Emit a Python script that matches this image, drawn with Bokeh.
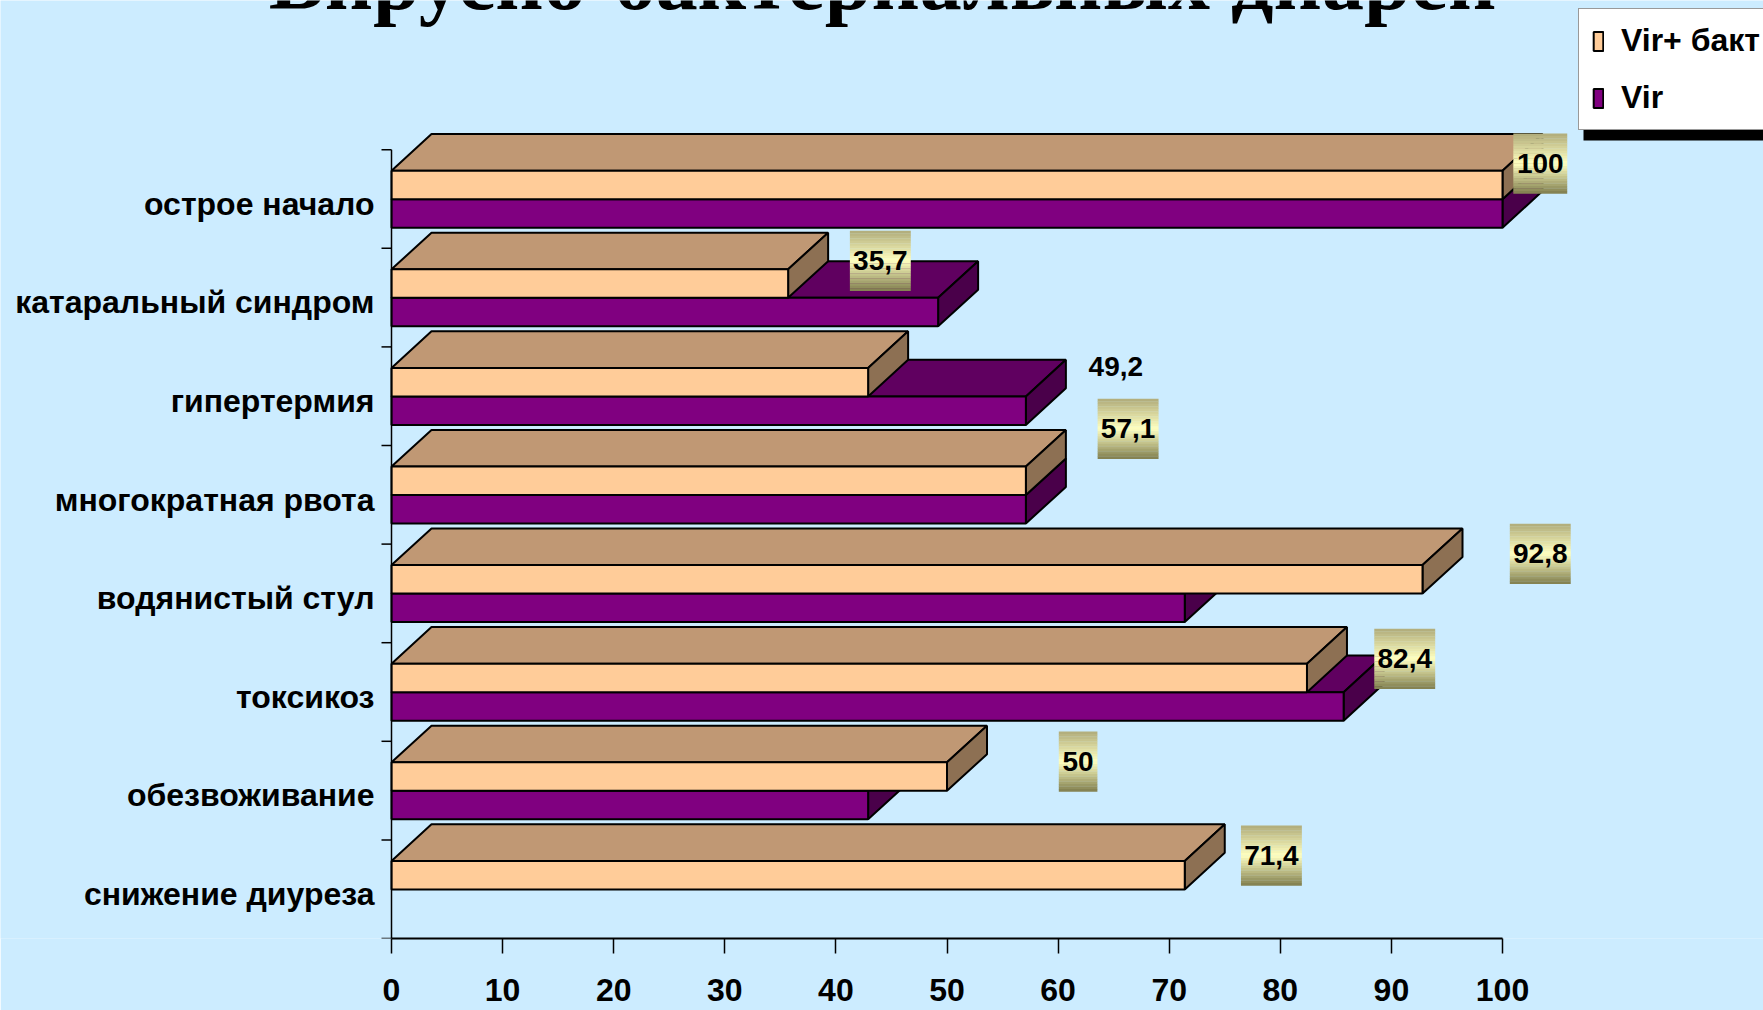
from bokeh.plotting import figure
from bokeh.models import Range1d, FixedTicker, Legend, LegendItem, ColumnDataSource
from bokeh.core.properties import value
from bokeh.embed import file_html
from bokeh.resources import INLINE

# ---- data -----------------------------------------------------------------
categories = [
    "острое начало",
    "катаральный синдром",
    "гипертермия",
    "многократная рвота",
    "водянистый стул",
    "токсикоз",
    "обезвоживание",
    "снижение диуреза",
]
vir_bakt = [100, 35.7, 42.9, 57.1, 92.8, 82.4, 50, 71.4]
vir = [100, 49.2, 57.1, 57.1, 71.4, 85.7, 42.9, 0]
series_names = ["Vir+ бакт", "Vir"]
x_ticks = [0, 10, 20, 30, 40, 50, 60, 70, 80, 90, 100]
title_text = "Вирусно-бактериальных диарей"

# data labels: which bar they belong to (category index, series index)
label_refs = [(0, 0), (1, 0), (1, 1), (2, 1), (4, 0), (5, 0), (6, 0), (7, 0)]
# placement of each label relative to its bar end / category band
label_dx = [3.4, 8.3, 16.0, 9.2, 10.6, 8.8, 11.8, 7.8]
label_dy = [0.860, 0.873, -0.197, 0.169, 0.902, 0.836, 0.795, 0.842]
label_boxed = [True, True, False, True, True, True, True, True]

# ---- layout constants -----------------------------------------------------
W, H = 1763, 1010
X0 = 391.0        # screen x of value 0
PX_X = 11.11      # pixels per value unit
Y0 = 938.0        # screen y of the value axis (bottom of frame)
PX_Y = 98.6       # pixels per category band
DX = 40.0 / PX_X  # oblique depth of the 3-D boxes
DY = 36.6 / PX_Y
LO, MID, HI = 0.209, 0.498, 0.787   # front faces inside a band

BG = "#CCECFF"
PEACH = ("#FFCC99", "#C09874", "#8D7053")    # front, top, side
PURPLE = ("#800080", "#600060", "#4A004A")
FONT = "Liberation Sans"

n = len(categories)

p = figure(
    width=W, height=H,
    x_range=Range1d(-X0 / PX_X, (W - X0) / PX_X),
    y_range=Range1d(0, Y0 / PX_Y),
    x_axis_location="below", y_axis_location=None,
    toolbar_location=None, output_backend="svg",
    background_fill_color=BG, border_fill_color=BG,
    outline_line_color=None, min_border=0,
)
p.min_border_bottom = int(H - Y0)
p.xgrid.visible = False
p.ygrid.visible = False


def boxes(vals, lo, hi):
    front = dict(left=[], right=[], bottom=[], top=[])
    top_xs, top_ys, side_xs, side_ys = [], [], [], []
    for k, v in enumerate(vals):
        if v <= 0:
            continue
        b0 = n - 1 - k
        bot, top = b0 + lo, b0 + hi
        front["left"].append(0)
        front["right"].append(v)
        front["bottom"].append(bot)
        front["top"].append(top)
        top_xs.append([0, v, v + DX, DX])
        top_ys.append([top, top, top + DY, top + DY])
        side_xs.append([v, v, v + DX, v + DX])
        side_ys.append([bot, top, top + DY, bot + DY])
    return front, (top_xs, top_ys), (side_xs, side_ys)


def draw_series(vals, lo, hi, colors):
    front, tops, sides = boxes(vals, lo, hi)
    p.patches(xs=tops[0], ys=tops[1], fill_color=colors[1],
              line_color="black", line_width=2)
    p.patches(xs=sides[0], ys=sides[1], fill_color=colors[2],
              line_color="black", line_width=2)
    return p.quad(source=ColumnDataSource(front), left="left", right="right",
                  bottom="bottom", top="top", fill_color=colors[0],
                  line_color="black", line_width=2)


r_vir = draw_series(vir, LO, MID, PURPLE)
r_vb = draw_series(vir_bakt, MID, HI, PEACH)

# ---- category axis (along the left wall) ----------------------------------
bounds = list(range(n + 1))
p.segment(x0=[0], y0=[0], x1=[0], y1=[n], line_color="black", line_width=1.5)
p.segment(x0=[-10 / PX_X] * len(bounds), y0=bounds, x1=[0] * len(bounds),
          y1=bounds, line_color="black", line_width=1.5)
p.text(x=[-17 / PX_X] * n, y=[n - 1 - k + 1 - 54 / PX_Y for k in range(n)],
       text=categories, text_align="right", text_baseline="middle",
       text_font=value(FONT), text_font_style="bold", text_font_size="32px",
       text_color="black")

# ---- value axis -----------------------------------------------------------
ax = p.xaxis[0]
ax.ticker = FixedTicker(ticks=x_ticks)
ax.bounds = (0, 100)
ax.axis_line_color = "black"
ax.axis_line_width = 2
ax.major_tick_out = 15
ax.major_tick_in = 0
ax.major_tick_line_color = "black"
ax.major_tick_line_width = 1.5
ax.minor_tick_out = 0
ax.minor_tick_in = 0
ax.major_label_text_font = FONT
ax.major_label_text_font_style = "bold"
ax.major_label_text_font_size = "32px"
ax.major_label_text_color = "black"
ax.major_label_standoff = 25

# ---- data labels ----------------------------------------------------------
series_vals = [vir_bakt, vir]
grad = [(0.0, (176, 172, 122)), (0.5, (255, 255, 192)), (1.0, (128, 126, 78))]


def grad_color(t):
    for (t0, c0), (t1, c1) in zip(grad[:-1], grad[1:]):
        if t <= t1:
            f = (t - t0) / (t1 - t0)
            return "#%02x%02x%02x" % tuple(int(round(a + (b - a) * f)) for a, b in zip(c0, c1))
    return "#%02x%02x%02x" % grad[-1][1]


strips = dict(left=[], right=[], bottom=[], top=[], color=[])
lab = dict(x=[], y=[], text=[])
NS = 24
for (k, s), dx, dy, boxed in zip(label_refs, label_dx, label_dy, label_boxed):
    v = series_vals[s][k]
    txt = f"{v:g}".replace(".", ",")
    cx = v + dx
    cy = (n - 1 - k) + dy
    lab["x"].append(cx)
    lab["y"].append(cy)
    lab["text"].append(txt)
    if boxed:
        digits = sum(ch.isdigit() for ch in txt)
        wpx = 8 + 15.3 * digits + 7 * txt.count(",")
        hw = wpx / 2 / PX_X
        hh = 30 / PX_Y
        for i in range(NS):
            t_top = cy + hh - 2 * hh * i / NS
            strips["left"].append(cx - hw)
            strips["right"].append(cx + hw)
            strips["top"].append(t_top)
            strips["bottom"].append(t_top - 2 * hh / NS - 0.002)
            strips["color"].append(grad_color((i + 0.5) / NS))

p.quad(source=ColumnDataSource(strips), left="left", right="right",
       bottom="bottom", top="top", fill_color="color", line_color=None)
p.text(source=ColumnDataSource(lab), x="x", y="y", text="text",
       text_align="center", text_baseline="middle", text_font=value(FONT),
       text_font_style="bold", text_font_size="28px", text_color="black")

# ---- title (runs off the top edge) ------------------------------------------
p.text(x=[(882 - X0) / PX_X], y=[(Y0 + 20) / PX_Y], text=[title_text],
       text_align="center", text_baseline="alphabetic",
       text_font=value("Liberation Serif"), text_font_style="bold",
       text_font_size="84px", text_color="black")

# ---- legend with drop shadow ----------------------------------------------
p.quad(left=[(1583 - X0) / PX_X], right=[(W + 20 - X0) / PX_X],
       top=[(Y0 - 110) / PX_Y], bottom=[(Y0 - 140) / PX_Y],
       fill_color="black", line_color=None)
legend = Legend(
    items=[LegendItem(label=series_names[0], renderers=[r_vb]),
           LegendItem(label=series_names[1], renderers=[r_vir])],
    location=(1578, Y0 - 130), orientation="vertical",
    label_text_font=FONT, label_text_font_style="bold",
    label_text_font_size="32px", label_text_color="black",
    glyph_width=12, glyph_height=24, label_standoff=17, label_height=30,
    padding=13, spacing=20, margin=0,
    background_fill_color="white", background_fill_alpha=1.0,
    border_line_color="#333333", border_line_width=1.5,
)
p.add_layout(legend)

open("out.html", "w").write(file_html(p, INLINE))
